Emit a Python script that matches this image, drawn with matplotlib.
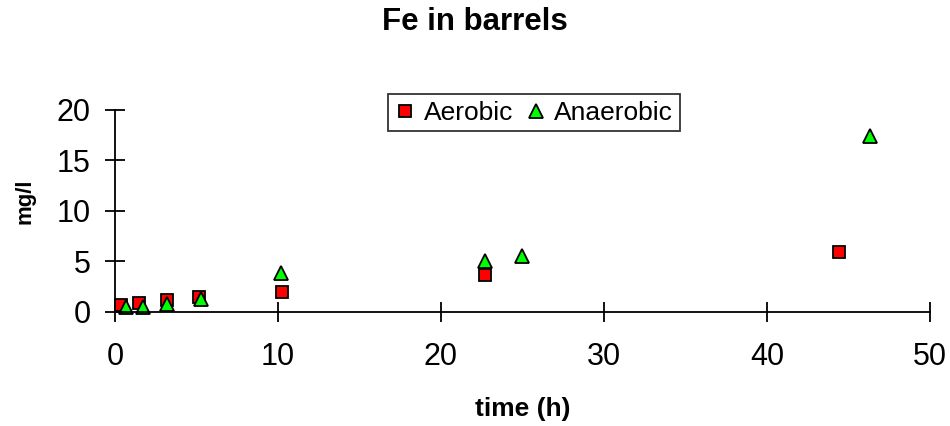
import matplotlib
matplotlib.use("Agg")
import matplotlib.pyplot as plt

plt.rcParams['font.family'] = ['Liberation Sans', 'DejaVu Sans']

# aerobic barrels
t_aer = [0.4, 1.5, 3.2, 5.15, 10.25, 22.7, 44.4]
fe_aer = [0.7, 0.9, 1.2, 1.5, 2.0, 3.6, 5.9]

# anaerobic barrels
t_ana = [0.7, 1.7, 3.2, 5.25, 10.2, 22.7, 24.95, 46.3]
fe_ana = [0.5, 0.5, 0.8, 1.3, 3.8, 5.0, 5.5, 17.4]

xticks = [0, 10, 20, 30, 40, 50]
yticks = [0, 5, 10, 15, 20]

fig = plt.figure(figsize=(9.5, 4.26), dpi=100)
ax = fig.add_axes([0.121, 0.268, 0.858, 0.474])

ax.plot(t_aer, fe_aer, 's', ms=8.5, mfc='#ff0000', mec='black', mew=1.3,
        label='Aerobic', clip_on=False)
ax.plot(t_ana, fe_ana, '^', ms=10.5, mfc='#00ff00', mec='black', mew=1.3,
        label='Anaerobic', clip_on=False)

ax.set_xlim(0, 50)
ax.set_ylim(0, 20)
ax.set_xticks(xticks)
ax.set_yticks(yticks)
ax.spines['top'].set_visible(False)
ax.spines['right'].set_visible(False)
ax.spines['left'].set_linewidth(1.3)
ax.spines['bottom'].set_linewidth(1.3)
ax.tick_params(direction='inout', length=15, width=1.3, labelsize=22)
ax.tick_params(axis='x', pad=14)
ax.tick_params(axis='y', pad=10)

ax.set_xlabel('time (h)', fontsize=19, fontweight='bold')
ax.xaxis.set_label_coords(0.5, -0.42)
ax.set_ylabel('mg/l', fontsize=16, fontweight='bold')
ax.yaxis.set_label_coords(-0.098, 0.55)
fig.suptitle('Fe in barrels', fontsize=22.5, fontweight='bold', y=0.948, va='center')

leg = ax.legend(loc='upper center', bbox_to_anchor=(0.514, 1.078), ncol=2,
                fontsize=19, markerscale=1.0, frameon=True, fancybox=False,
                edgecolor='black', handletextpad=0.3, columnspacing=0.45,
                borderpad=0.25, handlelength=0.8, borderaxespad=0)
leg.get_frame().set_linewidth(1.3)

fig.savefig('out.png', dpi=100)
